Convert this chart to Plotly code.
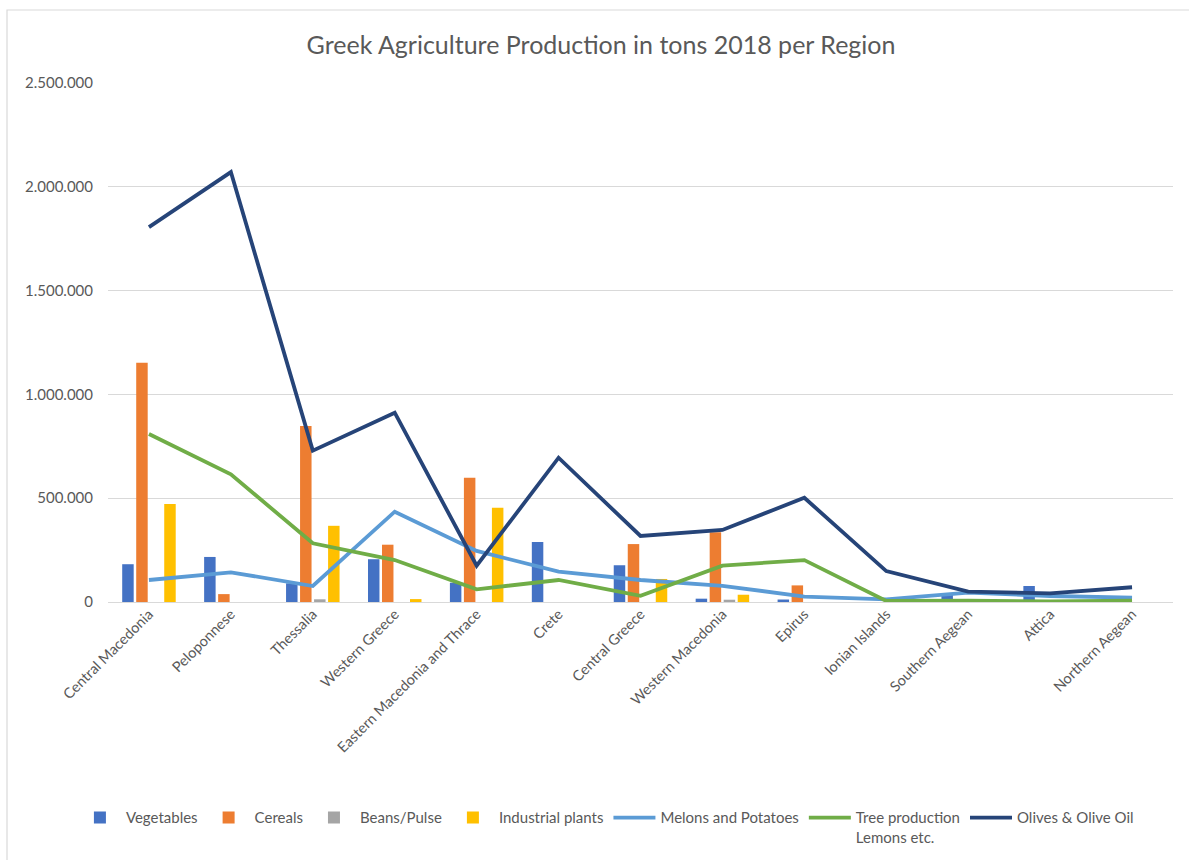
import plotly.graph_objects as go

regions = ["Central Macedonia", "Peloponnese", "Thessalia", "Western Greece",
           "Eastern Macedonia and Thrace", "Crete", "Central Greece",
           "Western Macedonia", "Epirus", "Ionian Islands", "Southern Aegean",
           "Attica", "Northern Aegean"]

vegetables = [182000, 217000, 90000, 206000, 93000, 289000, 177000, 16000, 12000, 0, 35000, 77000, 10000]
cereals = [1152000, 38000, 848000, 276000, 599000, 0, 279000, 336000, 80000, 0, 0, 0, 0]
beans = [0, 0, 13000, 0, 0, 0, 0, 11000, 0, 0, 0, 0, 0]
industrial = [472000, 0, 367000, 14000, 454000, 0, 111000, 35000, 0, 0, 0, 0, 0]
melons = [106000, 143000, 77000, 435000, 246000, 146000, 106000, 78000, 26000, 13000, 45000, 29000, 21000]
tree = [809000, 615000, 283000, 202000, 61000, 106000, 30000, 175000, 202000, 5000, 6000, 3000, 7000]
olives = [1806000, 2071000, 729000, 912000, 175000, 695000, 318000, 347000, 502000, 149000, 50000, 42000, 71000]

FONT = "Lato, Calibri, sans-serif"
GRAY = "#595959"

fig = go.Figure()
bar_series = [("Vegetables", vegetables, "#4472C4"),
              ("Cereals", cereals, "#ED7D31"),
              ("Beans/Pulse", beans, "#A5A5A5"),
              ("Industrial plants", industrial, "#FFC000")]
for name, vals, col in bar_series:
    fig.add_trace(go.Bar(x=regions, y=vals, name=name, marker_color=col,
                         marker_line_width=0))

line_series = [("Melons and Potatoes", melons, "#5B9BD5"),
               ("Tree production<br>Lemons etc.", tree, "#70AD47"),
               ("Olives & Olive Oil", olives, "#264478")]
for name, vals, col in line_series:
    fig.add_trace(go.Scatter(x=regions, y=vals, name=name, mode="lines",
                             line=dict(color=col, width=3.8)))

fig.update_layout(
    width=1189, height=860,
    paper_bgcolor="white", plot_bgcolor="white",
    margin=dict(l=108, r=16, t=83, b=258, autoexpand=False),
    barmode="group", bargap=0.316, bargroupgap=0.18,
    separators=",.",
    font=dict(family=FONT, color=GRAY, size=14),
    title=dict(text="Greek Agriculture Production in tons 2018 per Region",
               x=0.5055, xanchor="center", y=1 - 45 / 860, yanchor="middle",
               font=dict(family=FONT, size=25, color=GRAY)),
    showlegend=True,
    legend=dict(orientation="h", x=0.468, xanchor="center", y=-0.384,
                yanchor="top", valign="top", font=dict(size=15, color=GRAY),
                traceorder="normal", itemwidth=42),
    xaxis=dict(tickangle=-45, showgrid=False, showline=False, ticks="",
               automargin=False, tickfont=dict(size=14.5, color=GRAY)),
    yaxis=dict(range=[0, 2500000], tickvals=[0, 500000, 1000000, 1500000, 2000000, 2500000],
               tickformat=",", showgrid=True, gridcolor="#D9D9D9", gridwidth=1,
               zeroline=True, zerolinecolor="#D9D9D9", zerolinewidth=1,
               automargin=False,
               ticks="", ticklabelstandoff=14, tickfont=dict(size=15, color=GRAY)),
    shapes=[dict(type="rect", xref="paper", yref="paper",
                 x0=(7 - 108) / 1065, x1=1.05, y0=-0.6, y1=(602 - 10) / 519,
                 line=dict(color="#D9D9D9", width=1.2), layer="below")],
)

fig.write_html("out.html")
